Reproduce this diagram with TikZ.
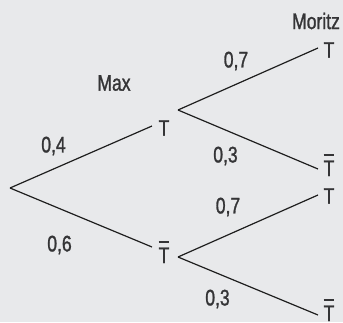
\documentclass[tikz,border=0pt]{standalone}
\usepackage{fontspec}
\setmainfont{Liberation Sans}[FakeStretch=0.78,FakeBold=1.2]
\definecolor{bg}{HTML}{E8E9EB}
\definecolor{ink}{HTML}{343436}
\definecolor{wire}{HTML}{1E1E1E}
% T with a bar over it (complement event)
\newcommand{\notT}{\leavevmode\vbox{\hrule height 1.7pt\kern 5pt\hbox{T}}}
\begin{document}
\begin{tikzpicture}[x=1pt,y=-1pt,
  lab/.style={text=ink,inner sep=0pt,font=\fontsize{22.5}{26}\selectfont},
  branch/.style={draw=wire,line width=1.2pt}]
\fill[bg] (0,0) rectangle (343,322);
\useasboundingbox (0,0) rectangle (343,322);

% branch points
\coordinate (root) at (10,188);
\coordinate (aT) at (152,126);
\coordinate (aN) at (152,247);
\coordinate (bT) at (178,110);
\coordinate (bN) at (178,257);
\coordinate (cTT) at (318,48);
\coordinate (cTN) at (318,169);
\coordinate (cNT) at (318,195);
\coordinate (cNN) at (318,315);

% first stage
\draw[branch] (root) -- (aT);
\draw[branch] (root) -- (aN);
% second stage
\draw[branch] (bT) -- (cTT);
\draw[branch] (bT) -- (cTN);
\draw[branch] (bN) -- (cNT);
\draw[branch] (bN) -- (cNN);

% outcomes
\node[lab] (mT) at (164,128) {T};
\node[lab,anchor=base] (mN) at (164,263) {\notT};
\node[lab] (rTT) at (329,50) {T};
\node[lab,anchor=base] (rTN) at (329,176) {\notT};
\node[lab] (rNT) at (329,196) {T};
\node[lab,anchor=base] (rNN) at (329,321) {\notT};

% headings
\node[lab] (max) at (114,83) {Max};
\node[lab] (moritz) at (316,21) {Moritz};

% probabilities
\node[lab] (p1) at (53.5,146) {0,4};
\node[lab] (p2) at (59.5,245) {0,6};
\node[lab] (p3) at (236,61) {0,7};
\node[lab] (p4) at (225.5,156) {0,3};
\node[lab] (p5) at (228,207) {0,7};
\node[lab] (p6) at (217.5,299) {0,3};
\end{tikzpicture}
\end{document}
